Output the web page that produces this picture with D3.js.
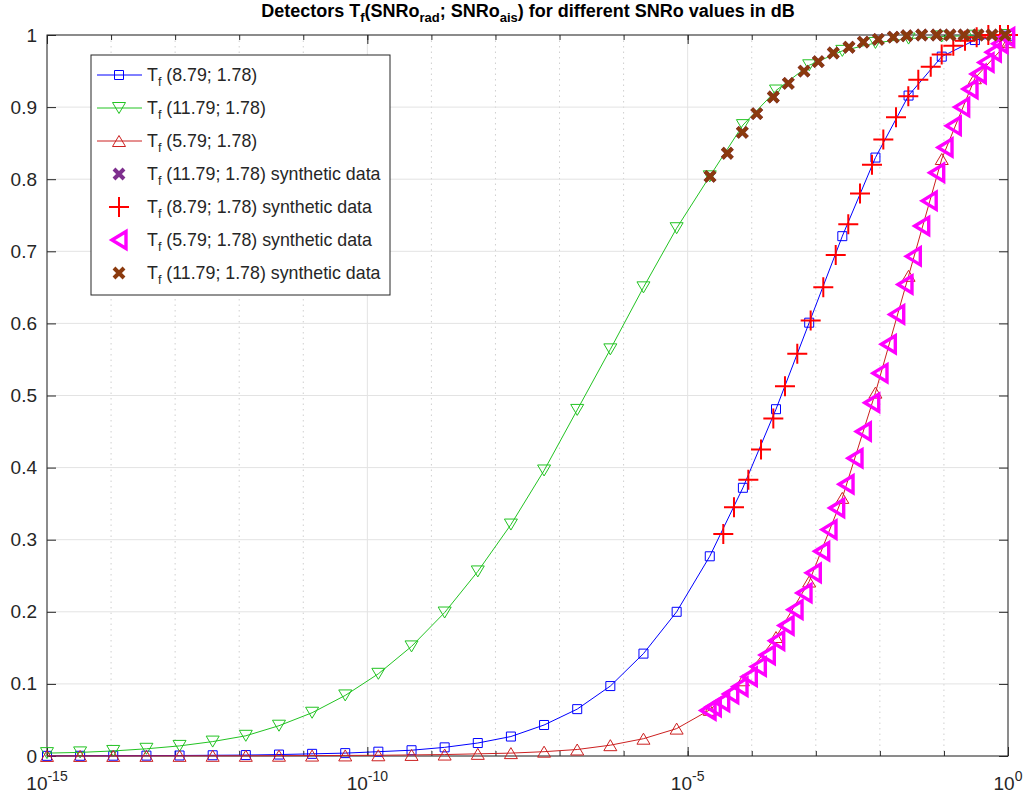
<!DOCTYPE html>
<html><head><meta charset="utf-8">
<script src="https://cdn.jsdelivr.net/npm/d3@7"></script>
<style>body{margin:0;background:#fff}svg{display:block;font-family:"Liberation Sans",Arial,sans-serif}</style>
</head><body><svg id="c" width="1026" height="797"></svg>
<script>
// model grid (log10 of SNRo)
const modelExp = [-15,-14.483,-13.966,-13.448,-12.931,-12.414,-11.897,-11.379,-10.862,-10.345,-9.828,-9.310,-8.793,-8.276,-7.759,-7.241,-6.724,-6.207,-5.690,-5.172,-4.655,-4.138,-3.621,-3.103,-2.586,-2.069,-1.552,-1.034,-0.517,0];
const tf879 = [0.0002,0.0003,0.0004,0.0005,0.0007,0.001,0.0013,0.002,0.003,0.004,0.006,0.008,0.012,0.018,0.027,0.043,0.065,0.097,0.142,0.200,0.277,0.372,0.481,0.601,0.721,0.830,0.916,0.970,0.993,0.999];
const tf1179 = [0.004,0.005,0.007,0.010,0.014,0.020,0.028,0.042,0.060,0.084,0.114,0.152,0.199,0.256,0.321,0.396,0.480,0.564,0.650,0.732,0.804,0.875,0.923,0.958,0.978,0.989,0.995,0.998,0.999,1.0];
const tf579 = [0.0001,0.0001,0.0001,0.0002,0.0002,0.0003,0.0003,0.0004,0.0006,0.0008,0.001,0.0015,0.002,0.003,0.004,0.006,0.009,0.015,0.024,0.038,0.064,0.105,0.165,0.242,0.358,0.504,0.666,0.828,0.940,0.990];
// synthetic data
const syn1179Exp = [-4.651,-4.381,-4.147,-3.922,-3.663,-3.429,-3.184,-2.961,-2.727,-2.482,-2.258,-2.024,-1.790,-1.581,-1.347,-1.113,-0.905,-0.687,-0.468,-0.250,-0.047];
const syn1179 = [0.804,0.836,0.865,0.891,0.914,0.933,0.950,0.963,0.975,0.983,0.990,0.994,0.997,0.999,1.0,1.0,1.0,1.0,1.0,1.0,1.0];
const syn879Exp = [-4.444,-4.277,-4.053,-3.855,-3.663,-3.481,-3.289,-3.080,-2.883,-2.689,-2.493,-2.310,-2.123,-1.946,-1.748,-1.556,-1.400,-1.206,-1.035,-0.854,-0.671,-0.489,-0.307,-0.125,0];
const syn879 = [0.308,0.345,0.383,0.425,0.468,0.513,0.558,0.604,0.650,0.695,0.7375,0.780,0.820,0.855,0.886,0.915,0.938,0.956,0.973,0.985,0.992,0.997,1.0,1.0,1.0];
const syn579Exp = [-4.682,-4.600,-4.469,-4.328,-4.183,-4.038,-3.897,-3.757,-3.610,-3.464,-3.324,-3.184,-3.039,-2.908,-2.794,-2.674,-2.528,-2.388,-2.258,-2.127,-1.998,-1.868,-1.737,-1.608,-1.478,-1.347,-1.230,-1.113,-0.983,-0.854,-0.723,-0.593,-0.464,-0.343,-0.229,-0.125,-0.020];
const syn579 = [0.063,0.068,0.075,0.086,0.096,0.110,0.124,0.140,0.160,0.181,0.203,0.226,0.254,0.284,0.314,0.344,0.377,0.413,0.450,0.490,0.531,0.571,0.6125,0.654,0.693,0.735,0.770,0.809,0.844,0.874,0.900,0.925,0.946,0.962,0.976,0.988,0.997];
const yTicks = [0,0.1,0.2,0.3,0.4,0.5,0.6,0.7,0.8,0.9,1];
const xMajorExp = [-15,-10,-5,0];
const xMinorExp = [-15,-14,-13,-12,-11,-10,-9,-8,-7,-6,-5,-4,-3,-2,-1,0];
const legendLabels = ["(8.79; 1.78)","(11.79; 1.78)","(5.79; 1.78)","(11.79; 1.78) synthetic data","(8.79; 1.78) synthetic data","(5.79; 1.78) synthetic data","(11.79; 1.78) synthetic data"];

const svg = d3.select("#c");
const L=47,R=1008,T=35,B=756;
const x = d3.scaleLog().domain([1e-15,1]).range([L,R]);
const y = d3.scaleLinear().domain([0,1]).range([B,T]);
const p10 = e=>Math.pow(10,e);
const AX="#262626";

// grid
const g = svg.append("g");
g.selectAll(".mg").data(xMinorExp.filter(e=>!xMajorExp.includes(e))).join("line")
  .attr("x1",d=>x(p10(d))).attr("x2",d=>x(p10(d))).attr("y1",T).attr("y2",B)
  .attr("stroke","#cfcfcf").attr("stroke-width",1).attr("stroke-dasharray","1.5,4");
g.selectAll(".Mg").data(xMajorExp).join("line")
  .attr("x1",d=>x(p10(d))).attr("x2",d=>x(p10(d))).attr("y1",T).attr("y2",B)
  .attr("stroke","#e3e3e3").attr("stroke-width",1);
g.selectAll(".yg").data(yTicks).join("line")
  .attr("x1",L).attr("x2",R).attr("y1",d=>y(d)).attr("y2",d=>y(d))
  .attr("stroke","#e3e3e3").attr("stroke-width",1);

// axes
function styleAxis(sel){sel.select(".domain").remove();sel.selectAll("line").attr("stroke",AX);}
svg.append("g").attr("transform",`translate(0,${B})`)
  .call(d3.axisBottom(x).tickValues(xMinorExp.map(p10)).tickSize(-5).tickFormat(""))
  .call(styleAxis);
svg.append("g").attr("transform",`translate(0,${T})`)
  .call(d3.axisTop(x).tickValues(xMinorExp.map(p10)).tickSize(-5).tickFormat(""))
  .call(styleAxis);
svg.append("g").attr("transform",`translate(0,${B})`)
  .call(d3.axisBottom(x).tickValues(xMajorExp.map(p10)).tickSize(-9).tickFormat(""))
  .call(styleAxis);
svg.append("g").attr("transform",`translate(0,${T})`)
  .call(d3.axisTop(x).tickValues(xMajorExp.map(p10)).tickSize(-9).tickFormat(""))
  .call(styleAxis);
const ya = svg.append("g").attr("transform",`translate(${L},0)`)
  .call(d3.axisLeft(y).tickValues(yTicks).tickSize(-9).tickPadding(10).tickFormat(d=>String(d)))
  .call(styleAxis);
ya.selectAll("text").attr("font-size",19).attr("fill",AX).attr("font-family","Liberation Sans, Arial, sans-serif");
svg.append("g").attr("transform",`translate(${R},0)`)
  .call(d3.axisRight(y).tickValues(yTicks).tickSize(-9).tickFormat(""))
  .call(styleAxis);
// x tick labels with superscripts
const xl = svg.append("g");
xMajorExp.forEach(e=>{
  const t = xl.append("text").attr("x",x(p10(e))).attr("y",790).attr("text-anchor","middle")
    .attr("fill",AX).attr("font-size",19);
  t.append("tspan").text("10");
  t.append("tspan").attr("font-size",14).attr("dy",-9).text(String(e));
});
svg.append("rect").attr("x",L).attr("y",T).attr("width",R-L).attr("height",B-T)
  .attr("fill","none").attr("stroke",AX).attr("stroke-width",1);

// marker shapes
const shapes = {
  square:s=>`M${-s/2},${-s/2}h${s}v${s}h${-s}Z`,
  tdown:(w,h)=>`M${-w/2},${-h/2}L${w/2},${-h/2}L0,${h/2}Z`,
  tup:(w,h)=>`M${-w/2},${h/2}L${w/2},${h/2}L0,${-h/2}Z`,
  tleft:(w,h)=>`M${-w/2},0L${w/2},${-h/2}L${w/2},${h/2}Z`,
  cross:s=>`M${-s/2},${-s/2}L${s/2},${s/2}M${-s/2},${s/2}L${s/2},${-s/2}`,
  plus:s=>`M${-s/2},0H${s/2}M0,${-s/2}V${s/2}`
};
const series = [
  {ex:modelExp, v:tf879, color:"#0000ff", line:true, path:shapes.square(9), sw:1},
  {ex:modelExp, v:tf1179, color:"#22c322", line:true, path:shapes.tdown(13,11), sw:1},
  {ex:modelExp, v:tf579, color:"#cc2020", line:true, path:shapes.tup(13,11), sw:1},
  {ex:syn1179Exp, v:syn1179, color:"#7e2f8e", line:false, path:shapes.cross(10), sw:4},
  {ex:syn879Exp, v:syn879, color:"#ff0000", line:false, path:shapes.plus(20), sw:2},
  {ex:syn579Exp, v:syn579, color:"#ff00ff", line:false, path:shapes.tleft(14,17), sw:3.4},
  {ex:syn1179Exp, v:syn1179, color:"#8b3a0e", line:false, path:shapes.cross(10), sw:4}
];
const lineGen = d3.line().x(d=>x(p10(d[0]))).y(d=>y(d[1]));
const dataG = svg.append("g");
series.forEach(s=>{
  const pts = s.ex.map((e,i)=>[e,s.v[i]]);
  if(s.line) dataG.append("path").attr("d",lineGen(pts)).attr("fill","none").attr("stroke",s.color).attr("stroke-width",1);
  dataG.append("g").selectAll("path").data(pts).join("path")
    .attr("transform",d=>`translate(${x(p10(d[0]))},${y(d[1])})`)
    .attr("d",s.path).attr("fill","none").attr("stroke",s.color).attr("stroke-width",s.sw)
    .attr("stroke-linejoin","miter");
});

// legend
const lg = svg.append("g");
lg.append("rect").attr("x",91).attr("y",55).attr("width",299).attr("height",240)
  .attr("fill","#fff").attr("stroke",AX).attr("stroke-width",1);
series.forEach((s,i)=>{
  const cy = 75 + i*33;
  if(s.line) lg.append("line").attr("x1",97).attr("x2",142).attr("y1",cy).attr("y2",cy).attr("stroke",s.color).attr("stroke-width",1);
  lg.append("path").attr("transform",`translate(119,${cy})`).attr("d",s.path).attr("fill","none")
    .attr("stroke",s.color).attr("stroke-width",s.sw);
  const t = lg.append("text").attr("x",147).attr("y",cy+6).attr("font-size",17.8).attr("fill",AX);
  t.append("tspan").text("T");
  t.append("tspan").attr("font-size",12.5).attr("dy",5).text("f");
  t.append("tspan").attr("dy",-5).text(" "+legendLabels[i]);
});

// title
const tt = svg.append("text").attr("x",528).attr("y",17).attr("text-anchor","middle")
  .attr("font-weight","bold").attr("font-size",18).attr("fill","#000");
tt.append("tspan").text("Detectors T");
tt.append("tspan").attr("font-size",13).attr("dy",5).text("f");
tt.append("tspan").attr("dy",-5).text("(SNRo");
tt.append("tspan").attr("font-size",13).attr("dy",5).text("rad");
tt.append("tspan").attr("dy",-5).text("; SNRo");
tt.append("tspan").attr("font-size",13).attr("dy",5).text("ais");
tt.append("tspan").attr("dy",-5).text(") for different SNRo values in dB");
</script></body></html>
